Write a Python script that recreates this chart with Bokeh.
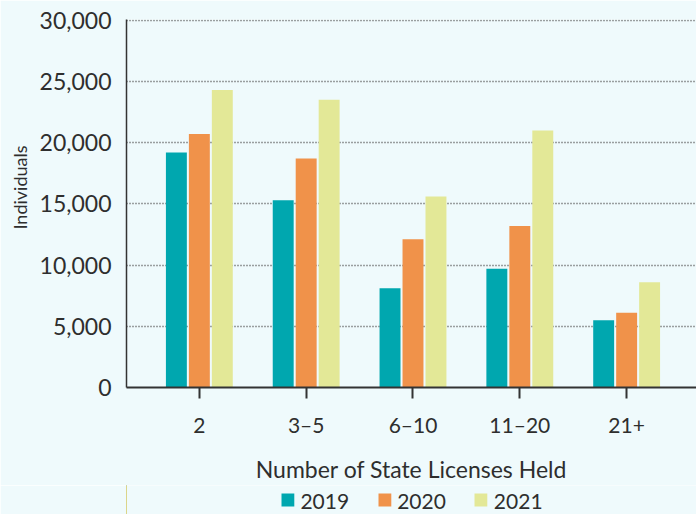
from bokeh.plotting import figure
from bokeh.layouts import column
from bokeh.models import ColumnDataSource, Legend, LegendItem, FixedTicker, NumeralTickFormatter, Range1d, Title
from bokeh.transform import dodge
from bokeh.embed import file_html
from bokeh.resources import INLINE

categories = ["2", "3–5", "6–10", "11–20", "21+"]
years = ["2019", "2020", "2021"]
v2019 = [19200, 15300, 8100, 9700, 5500]
v2020 = [20700, 18700, 12100, 13200, 6100]
v2021 = [24300, 23500, 15600, 21000, 8600]
colors = ["#00A7AF", "#F0924A", "#E3E897"]

BG = "#EFFAFC"
TXT = "#2e2e2e"
FONT = "Lato"

src = ColumnDataSource(dict(x=list(range(len(categories))), y2019=v2019, y2020=v2020, y2021=v2021))

p = figure(width=696, height=485, output_backend="svg", toolbar_location=None,
           x_range=Range1d(-0.682, 4.654), y_range=Range1d(0, 30060),
           min_border_left=125, min_border_top=19, min_border_bottom=98, min_border_right=0,
           background_fill_color=BG, border_fill_color=BG, outline_line_color=None)

for off, col, c in zip([-0.215, 0.0, 0.215], ["y2019", "y2020", "y2021"], colors):
    p.vbar(x=dodge("x", off, range=p.x_range), top=col, bottom=0, width=0.196, source=src,
           fill_color=c, line_color=None)

# x axis
xa = p.xaxis[0]
xa.ticker = FixedTicker(ticks=list(range(len(categories))))
xa.major_label_overrides = {i: c for i, c in enumerate(categories)}
xa.axis_line_color = "#333333"
xa.axis_line_width = 2
xa.major_tick_out = 11
xa.major_tick_in = 0
xa.major_tick_line_color = "#333333"
xa.major_tick_line_width = 2
xa.minor_tick_line_color = None
xa.major_label_text_font = FONT
xa.major_label_text_font_size = "21px"
xa.major_label_text_color = TXT
xa.major_label_standoff = 13
xa.axis_label = "Number of State Licenses Held"
xa.axis_label_text_font = FONT
xa.axis_label_text_font_size = "23px"
xa.axis_label_text_font_style = "normal"
xa.axis_label_text_color = TXT
xa.axis_label_standoff = 15

# y axis
ya = p.yaxis[0]
ya.ticker = FixedTicker(ticks=[0, 5000, 10000, 15000, 20000, 25000, 30000])
ya.formatter = NumeralTickFormatter(format="0,0")
ya.axis_line_color = "#333333"
ya.axis_line_width = 1.5
ya.major_tick_line_color = None
ya.minor_tick_line_color = None
ya.major_label_text_font = FONT
ya.major_label_text_font_size = "23px"
ya.major_label_text_color = TXT
ya.major_label_standoff = 9

ytitle = Title(text="Individuals", align="right", offset=126, standoff=12,
               text_font=FONT, text_font_size="18px", text_font_style="normal", text_color=TXT)
p.add_layout(ytitle, "left")

p.xgrid.grid_line_color = None
p.ygrid.grid_line_color = "#444444"
p.ygrid.grid_line_dash = "1 2"
p.ygrid.grid_line_width = 1.5

# legend strip below the chart (its bars lie outside its visible range; only the legend shows)
p2 = figure(width=696, height=29, output_backend="svg", toolbar_location=None,
            x_axis_location=None, y_axis_location=None,
            x_range=Range1d(100, 101), y_range=Range1d(0, 1),
            min_border_left=125, min_border_top=0, min_border_bottom=0, min_border_right=0,
            background_fill_color=BG, border_fill_color=BG, outline_line_color=None)
p2.xgrid.grid_line_color = None
p2.ygrid.grid_line_color = None
legend_renderers = [p2.vbar(x="x", top=col, bottom=0, width=0.196, source=src, fill_color=c, line_color=None)
                    for col, c in zip(["y2019", "y2020", "y2021"], colors)]

legend = Legend(items=[LegendItem(label=y, renderers=[r]) for y, r in zip(years, legend_renderers)],
                orientation="horizontal", location="center",
                background_fill_alpha=0, border_line_color=None,
                glyph_width=16, glyph_height=16, label_height=16,
                label_standoff=5, spacing=27, padding=0, margin=0,
                label_text_font=FONT, label_text_font_size="21px", label_text_color=TXT)
p2.add_layout(legend, "center")

layout = column(p, p2, spacing=0)

open("out.html", "w").write(file_html(layout, INLINE))
